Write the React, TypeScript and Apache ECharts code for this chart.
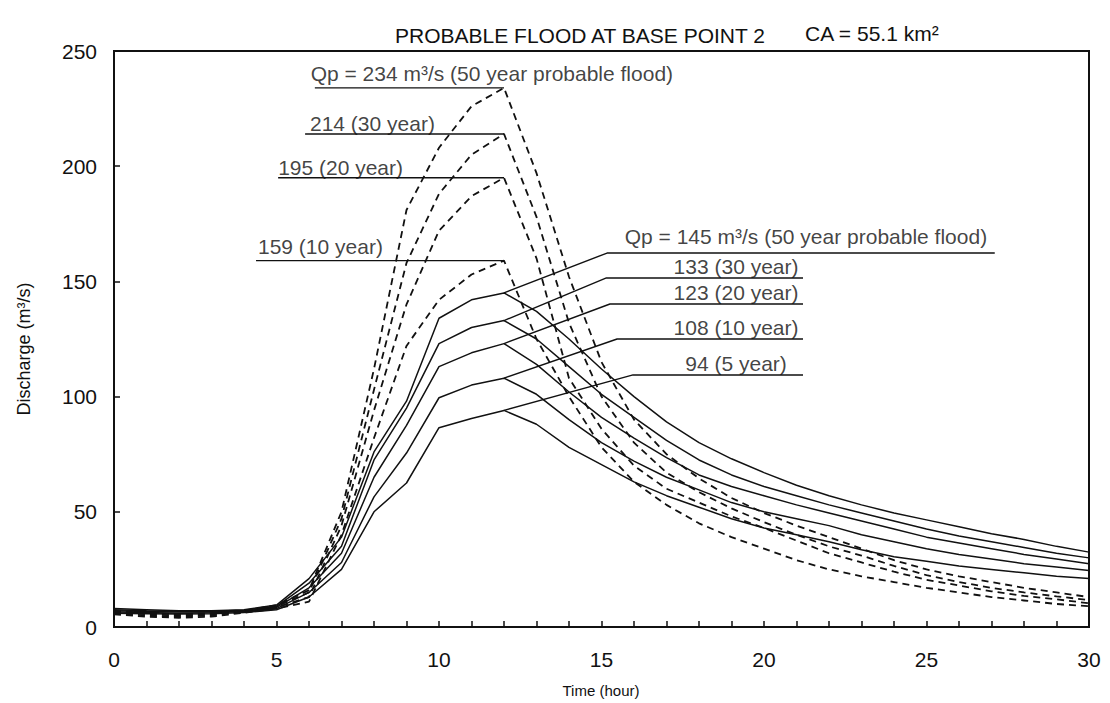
import React, { useEffect, useRef } from 'react';
import * as echarts from 'echarts';

const hours = [0, 1, 2, 3, 4, 5, 6, 7, 8, 9, 10, 11, 12, 13, 14, 15, 16, 17, 18, 19, 20, 21, 22, 23, 24, 25, 26, 27, 28, 29, 30];

// Solid hydrographs (peaks 145 / 133 / 123 / 108 / 94)
const solid50 = [8, 7.5, 7, 7, 7.5, 9.5, 21, 39, 76, 98, 134, 142, 145, 137, 125, 112, 100, 89, 80, 73, 67, 61.5, 57, 53, 49.5, 46.5, 43.5, 40.5, 38, 35, 32.5];
const solid30 = [7.5, 7, 6.8, 6.8, 7.3, 9, 19, 35, 72.5, 95, 123, 130, 133, 125, 113, 101, 91, 81, 72.5, 66, 61, 57, 53, 49.5, 46, 42.5, 39.5, 37, 34.5, 32, 30];
const solid20 = [7, 6.7, 6.5, 6.5, 7, 8.5, 17, 32, 65, 87.5, 113, 119, 123, 114, 102, 91, 82, 73.5, 66, 61, 57, 53, 49.5, 46, 42.5, 39, 36.5, 34, 31.5, 29.5, 27.5];
const solid10 = [6.5, 6.3, 6, 6.2, 6.7, 8, 15, 28, 56.5, 75.5, 99.5, 105, 108, 101, 90, 80, 72, 65, 59.5, 54, 50, 47, 44, 40, 37, 34, 31.5, 29.5, 27.5, 26, 24.5];
const solid5 = [6, 5.8, 5.6, 5.8, 6.3, 7.5, 13, 25, 50, 62.5, 86.5, 90.5, 94, 88, 78, 70.5, 63, 57, 52, 47, 43, 40, 37, 33.5, 30.5, 28.5, 26.5, 25, 23.5, 22, 21];

// Dashed hydrographs (peaks 234 / 214 / 195 / 159)
const dashed50 = [7, 6, 5.5, 6, 7, 9.5, 16, 50, 112, 181, 208, 226, 234, 197, 152, 115, 90, 75, 64.5, 56, 49.5, 44, 39, 34, 29, 25, 22, 19.5, 17, 15, 13];
const dashed30 = [6.5, 5.5, 5, 5.5, 6.7, 9, 15, 47, 103, 158, 188, 205, 214, 178, 132, 100, 80, 67, 58.5, 51.5, 45.5, 40, 35, 31, 26.5, 22.5, 19.5, 17, 15, 13.3, 11.7];
const dashed20 = [6, 5, 4.5, 5, 6.5, 8.5, 13, 44, 94, 140, 172, 187, 195, 160, 108, 86, 70, 60, 54, 48, 43, 37.5, 32, 28, 24, 20.5, 18, 15.5, 13.5, 12, 10.3];
const dashed10 = [5.5, 4.5, 4, 4.5, 6.2, 8, 11, 40, 82, 122, 142, 153, 159, 125, 100, 78, 63, 53, 45, 39, 34, 29, 25, 22, 19.5, 17, 15, 13, 11.5, 10, 9];

// Leader lines (data coordinates)
const dashedLeaders = [
  [[6.18, 234], [12, 234]],
  [[5.88, 214], [12, 214]],
  [[5.05, 195], [12, 195]],
  [[4.37, 159], [12, 159]],
];
const solidLeaders = [
  [[12, 145], [15.17, 162.3], [27.1, 162.3]],
  [[12, 133], [15.15, 151.5], [21.2, 151.5]],
  [[12, 123], [15.26, 140.2], [21.2, 140.2]],
  [[12, 108], [15.48, 125], [21.2, 125]],
  [[12, 94], [15.97, 109.4], [21.2, 109.4]],
];

const labelTexts = [
  'Qp = 234 m³/s (50 year probable flood)',
  '214 (30 year)',
  '195 (20 year)',
  '159 (10 year)',
  'Qp = 145 m³/s (50 year probable flood)',
  '133 (30 year)',
  '123 (20 year)',
  '108 (10 year)',
  '94 (5 year)',
];
const labelAnchors = [
  [6.05, 234], [6.03, 214], [5.05, 195], [4.43, 159],
  [21.29, 162.3], [19.14, 151.5], [19.14, 140.2], [19.14, 125], [19.14, 109.4],
];
const labelAligns = ['left', 'left', 'left', 'left', 'center', 'center', 'center', 'center', 'center'];
const labelLift = [4, 0, 0, 4, 6, 1, 1, 1, 1];

const xTicks = [0, 5, 10, 15, 20, 25, 30];
const yTicks = [0, 50, 100, 150, 200, 250];

const FONT = '"Liberation Sans", Arial, Helvetica, sans-serif';
const INK = '#111';

const pair = (arr: number[]) => hours.map((h, i) => [h, arr[i]]);

export default function App() {
  const ref = useRef<HTMLDivElement>(null);

  useEffect(() => {
    const chart = echarts.init(ref.current!, null, { renderer: 'svg' });

    const solidSeries = [solid50, solid30, solid20, solid10, solid5].map((arr) => ({
      type: 'line',
      data: pair(arr),
      symbol: 'none',
      silent: true,
      lineStyle: { color: INK, width: 1.5 },
      z: 3,
    }));
    const dashedSeries = [dashed50, dashed30, dashed20, dashed10].map((arr) => ({
      type: 'line',
      data: pair(arr),
      symbol: 'none',
      silent: true,
      lineStyle: { color: INK, width: 1.8, type: [7, 5] },
      z: 3,
    }));
    const leaderSeries = [...dashedLeaders, ...solidLeaders].map((pts) => ({
      type: 'line',
      data: pts,
      symbol: 'none',
      silent: true,
      lineStyle: { color: INK, width: 1.4 },
      z: 4,
    }));
    const labelSeries = {
      type: 'scatter',
      symbolSize: 0.1,
      silent: true,
      itemStyle: { color: 'rgba(0,0,0,0)' },
      z: 5,
      data: labelAnchors.map((p, i) => ({
        value: p,
        label: {
          show: true,
          formatter: labelTexts[i],
          position: 'top',
          align: labelAligns[i],
          distance: labelLift[i],
          fontSize: 21,
          color: INK,
          fontFamily: FONT,
        },
      })),
    };

    const option = {
      animation: false,
      backgroundColor: '#fff',
      grid: {
        left: 114,
        right: 21,
        top: 51,
        bottom: 76,
        show: true,
        borderColor: INK,
        borderWidth: 2,
        backgroundColor: 'transparent',
      },
      xAxis: {
        type: 'value',
        min: xTicks[0],
        max: xTicks[xTicks.length - 1],
        interval: 5,
        axisLine: { show: true, onZero: false, lineStyle: { color: INK, width: 2 } },
        axisTick: { show: true, inside: true, length: 6, lineStyle: { color: INK, width: 1.5 } },
        minorTick: { show: true, splitNumber: 5, length: 6, lineStyle: { color: INK, width: 1.5 } },
        splitLine: { show: false },
        axisLabel: { fontSize: 21, color: INK, margin: 22, fontFamily: FONT },
      },
      yAxis: {
        type: 'value',
        min: yTicks[0],
        max: yTicks[yTicks.length - 1],
        interval: 50,
        axisLine: { show: true, onZero: false, lineStyle: { color: INK, width: 2 } },
        axisTick: { show: true, inside: true, length: 6, lineStyle: { color: INK, width: 1.5 } },
        splitLine: { show: false },
        axisLabel: { fontSize: 21, color: INK, margin: 17, fontFamily: FONT },
      },
      graphic: [
        {
          type: 'text',
          x: 395,
          y: 35,
          style: {
            text: 'PROBABLE FLOOD AT BASE POINT 2',
            fontSize: 21,
            fontFamily: FONT,
            fill: INK,
            textAlign: 'left',
            textVerticalAlign: 'middle',
          },
        },
        {
          type: 'text',
          x: 805,
          y: 33,
          style: {
            text: 'CA = 55.1 km²',
            fontSize: 21,
            fontFamily: FONT,
            fill: INK,
            textAlign: 'left',
            textVerticalAlign: 'middle',
          },
        },
        {
          type: 'text',
          x: 24,
          y: 349,
          rotation: Math.PI / 2,
          style: {
            text: 'Discharge (m³/s)',
            fontSize: 18,
            fontFamily: FONT,
            fill: INK,
            textAlign: 'center',
            textVerticalAlign: 'middle',
          },
        },
        {
          type: 'text',
          x: 601,
          y: 690,
          style: {
            text: 'Time (hour)',
            fontSize: 15,
            fontFamily: FONT,
            fill: INK,
            textAlign: 'center',
            textVerticalAlign: 'middle',
          },
        },
      ],
      series: [...solidSeries, ...dashedSeries, ...leaderSeries, labelSeries],
    };

    chart.setOption(option as any);
    return () => chart.dispose();
  }, []);

  return (
    <div
      ref={ref}
      style={{ position: 'fixed', left: 0, top: 0, width: 1110, height: 703, background: '#fff' }}
    />
  );
}
